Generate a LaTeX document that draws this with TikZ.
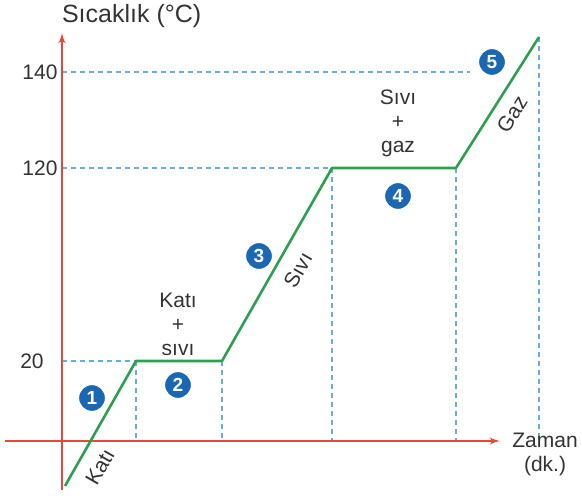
\documentclass[tikz,border=0pt]{standalone}
\usepackage{fontspec}
\setmainfont{Liberation Sans}
\usetikzlibrary{arrows}
\definecolor{axisred}{HTML}{E8473D}
\definecolor{phasegreen}{HTML}{2E9E4F}
\definecolor{guideblue}{HTML}{6AAED6}
\definecolor{stepblue}{HTML}{1A68B3}
\definecolor{inkgray}{HTML}{333333}

\begin{document}
\begin{tikzpicture}[x=0.5pt, y=0.5pt, >=latex', text=inkgray]
\useasboundingbox (0,0) rectangle (582,497);

\tikzstyle{guide}=[draw=guideblue, line width=0.7pt, dash pattern=on 2.5pt off 2pt]
\tikzstyle{stepdot}=[circle, fill=stepblue, draw=white, line width=0.6pt, text=white,
  inner sep=0pt, minimum size=13.5pt, font=\bfseries\fontsize{9.5}{10}\selectfont]
\tikzstyle{lbl}=[font=\fontsize{10.5}{12}\selectfont, inner sep=1pt]

% axes
\coordinate (origin) at (62,56);
\coordinate (ybot) at (62,7);
\coordinate (ytop) at (62,464);
\coordinate (xleft) at (5,56);
\coordinate (xright) at (500,56);

% heating curve
\coordinate (p0) at (65,11);
\coordinate (p1) at (136,136);
\coordinate (p2) at (222,136);
\coordinate (p3) at (332,329);
\coordinate (p4) at (456,329);
\coordinate (p5) at (539,460);

\coordinate (t20) at (62,136);
\coordinate (t120) at (62,329);
\coordinate (t140) at (62,425);
\coordinate (g140) at (470,425);

% dashed guides
\draw [guide] (t20) -- (p1);
\draw [guide] (t120) -- (p3);
\draw [guide] (t140) -- (g140);
\foreach \p in {p1, p2, p3, p4, p5}
  \draw [guide] (\p) -- (\p |- origin);

\draw [->, axisred, line width=0.8pt] (xleft) -- (xright);
\draw [->, axisred, line width=0.8pt] (ybot) -- (ytop);

\draw [phasegreen, line width=1.3pt, line join=round]
  (p0) -- (p1) -- (p2) -- (p3) -- (p4) -- (p5);

% axis texts
\node [anchor=west, font=\fontsize{12.5}{14}\selectfont] (ylabel) at (55,481) {Sıcaklık (°C)};
\node [lbl, align=center] (xlabel) at (545,43) {Zaman\\(dk.)};
\node [lbl] (n140) at (40,425) {140};
\node [lbl] (n120) at (40,329) {120};
\node [lbl] (n20) at (32,136) {20};

% phase texts
\node [lbl, align=center] (solidliquid) at (178,173) {Katı\\+\\sıvı};
\node [lbl, align=center] (liquidgas) at (398,374) {Sıvı\\+\\gaz};
\node [lbl, rotate=60] (solid) at (100,30) {Katı};
\node [lbl, rotate=60] (liquid) at (298,227) {Sıvı};
\node [lbl, rotate=58] (gas) at (512,383) {Gaz};

% step numbers
\node [stepdot] (s1) at (92,99) {1};
\node [stepdot] (s2) at (178,112) {2};
\node [stepdot] (s3) at (259,241) {3};
\node [stepdot] (s4) at (398,301) {4};
\node [stepdot] (s5) at (492,435) {5};

\end{tikzpicture}
\end{document}
